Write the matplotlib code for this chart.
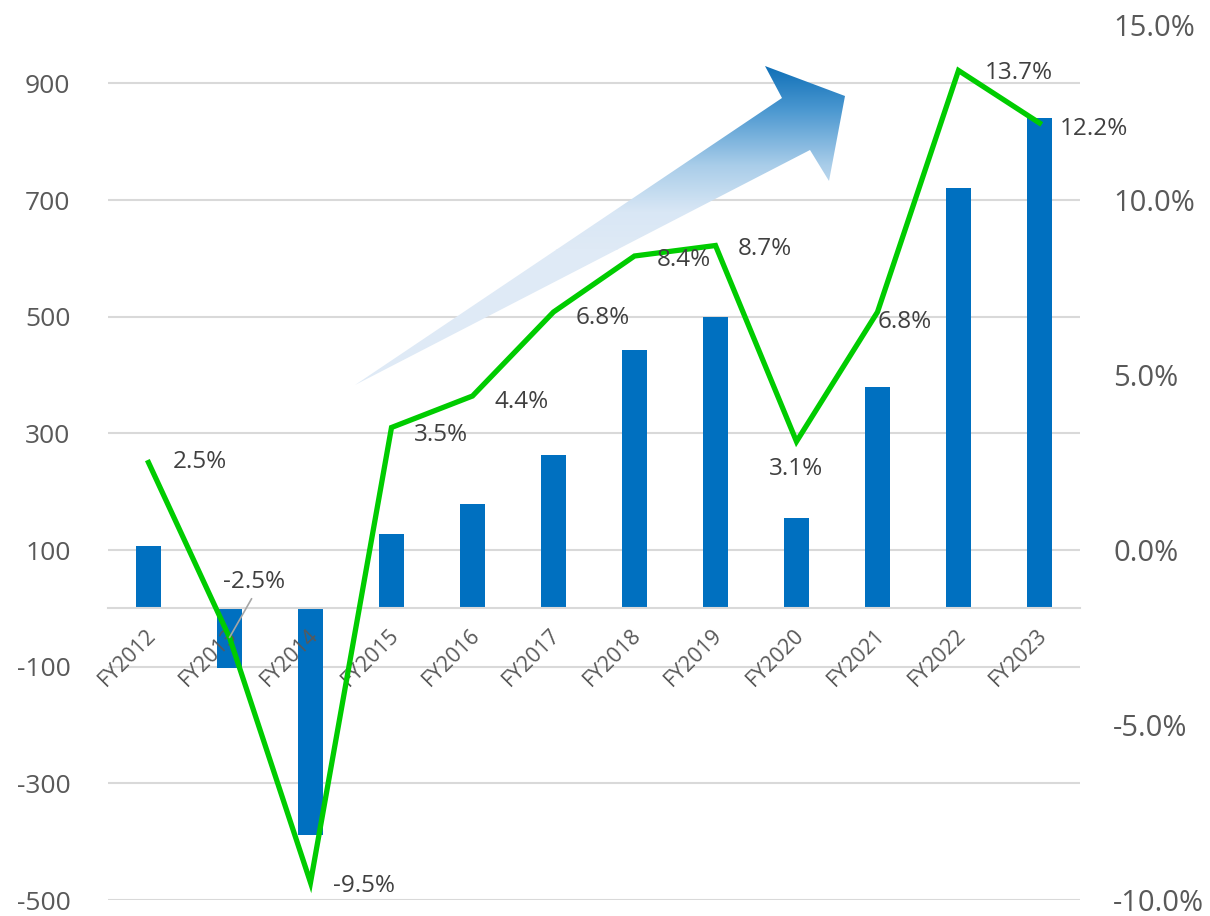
import numpy as np
import matplotlib
matplotlib.use("Agg")
import matplotlib.pyplot as plt
from matplotlib.patches import Polygon
from matplotlib.colors import LinearSegmentedColormap

plt.rcParams['font.family'] = ['Open Sans', 'DejaVu Sans']

categories = ["FY2012", "FY2013", "FY2014", "FY2015", "FY2016", "FY2017",
              "FY2018", "FY2019", "FY2020", "FY2021", "FY2022", "FY2023"]
bar_values = [107, -102, -388, 128, 178, 262, 443, 500, 154, 380, 721, 841]
growth_pct = [2.5, -2.5, -9.5, 3.5, 4.4, 6.8, 8.4, 8.7, 3.1, 6.8, 13.7, 12.2]
left_ticks = [-500, -300, -100, 100, 300, 500, 700, 900]
right_ticks = [-10, -5, 0, 5, 10, 15]

W, H = 1210, 916
fig = plt.figure(figsize=(W / 100, H / 100), dpi=100)
ax = fig.add_axes([108 / W, 16 / H, 972 / W, 875 / H])
ax2 = ax.twinx()

x = np.arange(len(categories))
ax.bar(x, bar_values, width=0.31, color='#0070C0', zorder=2)
ax.set_xlim(-0.5, len(categories) - 0.5)
ax.set_ylim(-500, 1000)
ax.set_yticks(left_ticks)
ax.set_yticklabels([str(v) for v in left_ticks])
ax.yaxis.grid(True, color='#d9d9d9', linewidth=1.5, zorder=0)
ax.set_axisbelow(True)
for s in ['top', 'right', 'left']:
    ax.spines[s].set_visible(False)
ax.spines['bottom'].set_position(('data', 0))
ax.spines['bottom'].set_color('#d9d9d9')
ax.spines['bottom'].set_linewidth(1.5)
ax.tick_params(axis='y', length=0, pad=27, labelsize=19, labelcolor='#595959')
ax.set_xticks(x)
ax.set_xticklabels([])
ax.tick_params(axis='x', length=0)
for i, c in enumerate(categories):
    ax.annotate(c, (i, 0), xytext=(4, -24), textcoords='offset pixels',
                rotation=45, ha='right', va='center', rotation_mode='anchor',
                fontsize=15.5, color='#595959')

ax2.plot(x, growth_pct, color='#00CC00', linewidth=3.8, zorder=5,
         solid_joinstyle='miter')
ax2.set_ylim(-10, 15)
ax2.set_yticks(right_ticks)
ax2.set_yticklabels([f"{v:.1f}%" for v in right_ticks])
ax2.tick_params(axis='y', length=0, pad=24, labelsize=21, labelcolor='#595959')
for s in ['top', 'right', 'left', 'bottom']:
    ax2.spines[s].set_visible(False)

# data label offsets (pixels) and alignment
offsets = [(24, 0, 'left'), (-6, 56, 'left'), (22, -4, 'left'), (22, -8, 'left'),
           (22, -6, 'left'), (22, -6, 'left'), (22, -4, 'left'), (22, -4, 'left'),
           (0, -28, 'center'), (0, -10, 'left'), (26, -3, 'left'), (20, -6, 'left')]
for i, (v, (dx, dy, ha)) in enumerate(zip(growth_pct, offsets)):
    kw = {}
    if i == 1:
        kw = dict(arrowprops=dict(arrowstyle='-', color='#a6a6a6', lw=1.2,
                                  shrinkA=2, shrinkB=0, relpos=(0.5, 0.0)))
    ax2.annotate(f"{v:.1f}%", (i, v), xytext=(dx, dy), textcoords='offset pixels',
                 ha=ha, va='center', fontsize=17.5, color='#404040', zorder=6, **kw)

# gradient arrow overlay (figure pixel coordinates, y from top)
axo = fig.add_axes([0, 0, 1, 1])
axo.set_xlim(0, W)
axo.set_ylim(H, 0)
axo.axis('off')
axo.patch.set_visible(False)
ax.set_zorder(1)
axo.set_zorder(2)
ax2.set_zorder(3)
ax2.patch.set_visible(False)

arrow_pts = [(355, 385), (810, 150), (829, 181), (845, 96), (765, 66), (782, 98)]
poly = Polygon(arrow_pts, closed=True, facecolor='none', edgecolor='none')
axo.add_patch(poly)
cmap = LinearSegmentedColormap.from_list(
    'arr', [(0.0, '#0a6cb5'), (0.25, '#4a97d0'), (0.55, '#a9cde9'), (0.8, '#d9e7f5'), (1.0, '#dfeaf6')])
grad = np.linspace(0, 1, 256).reshape(-1, 1)
y0, y1 = 62, 250
im = axo.imshow(grad, cmap=cmap, extent=(340, 860, y1, y0), aspect='auto',
                interpolation='bilinear', origin='upper')
im2 = axo.imshow(np.ones((2, 2)), cmap=LinearSegmentedColormap.from_list('l', ['#dfeaf6', '#dfeaf6']),
                 extent=(340, 860, 395, y1 - 1), aspect='auto')
im.set_clip_path(poly)
im2.set_clip_path(poly)
axo.set_xlim(0, W)
axo.set_ylim(H, 0)

fig.savefig('out.png', dpi=100, facecolor='white')
